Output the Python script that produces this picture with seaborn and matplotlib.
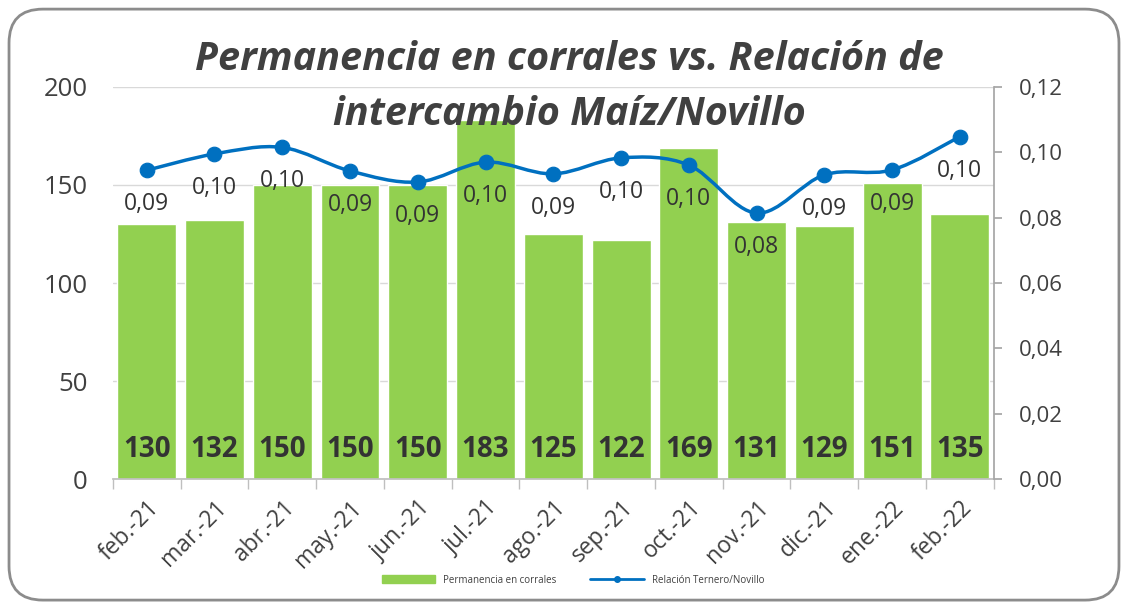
import matplotlib.pyplot as plt
import matplotlib.patches as mpatches
import matplotlib.lines as mlines
from matplotlib.path import Path
from matplotlib.ticker import FixedLocator, FuncFormatter
import numpy as np
import pandas as pd
import seaborn as sns

meses = ["feb.-21", "mar.-21", "abr.-21", "may.-21", "jun.-21", "jul.-21", "ago.-21",
         "sep.-21", "oct.-21", "nov.-21", "dic.-21", "ene.-22", "feb.-22"]
permanencia = [130, 132, 150, 150, 150, 183, 125, 122, 169, 131, 129, 151, 135]
relacion = [0.0945, 0.0995, 0.1015, 0.0943, 0.0909, 0.0970, 0.0934,
            0.0983, 0.0961, 0.0814, 0.0931, 0.0946, 0.1048]

df = pd.DataFrame({"mes": meses, "permanencia": permanencia, "relacion": relacion})

verde = "#92D050"
azul = "#0070C0"
gris_txt = "#404040"

sns.set_theme(style="white")
plt.rcParams["font.family"] = ["Open Sans", "DejaVu Sans"]

fig = plt.figure(figsize=(11.28, 6.08), dpi=100)

# marco redondeado del grafico
marco = mpatches.FancyBboxPatch((0.008, 0.013), 0.984, 0.972,
                                boxstyle="round,pad=0,rounding_size=0.03",
                                transform=fig.transFigure, facecolor="white",
                                edgecolor="#8c8c8c", linewidth=2, zorder=-10,
                                mutation_aspect=1128 / 608)
fig.patches.append(marco)

ax = fig.add_axes([0.100, 0.212, 0.781, 0.645])
ax.set_facecolor("none")
sns.barplot(data=df, x="mes", y="permanencia", color=verde, width=0.87,
            saturation=1, ax=ax, zorder=2)
ax.set_ylim(0, 200)
ax.set_xlim(-0.5, len(meses) - 0.5)
ax.set_yticks([0, 50, 100, 150, 200])
ax.yaxis.grid(True, color="#d9d9d9", linewidth=1, zorder=0)
ax.set_axisbelow(True)
for s in ["left", "top", "right"]:
    ax.spines[s].set_visible(False)
ax.spines["bottom"].set_color("#bfbfbf")
ax.set_xlabel(None)
ax.set_ylabel(None)
ax.tick_params(axis="y", length=0, labelsize=18.5, labelcolor=gris_txt, pad=18)
ax.xaxis.set_minor_locator(FixedLocator(np.arange(-0.5, len(meses), 1)))
ax.tick_params(axis="x", which="major", length=0, labelsize=16.5,
               labelcolor=gris_txt, pad=12)
ax.tick_params(axis="x", which="minor", length=7, color="#bfbfbf", width=1,
               bottom=True)
plt.setp(ax.get_xticklabels(), rotation=45, ha="right", rotation_mode="anchor")

for i, v in enumerate(permanencia):
    ax.annotate(str(v), xy=(i, 0), xytext=(0, 30), textcoords="offset pixels",
                ha="center", va="center", fontsize=20, fontweight="bold",
                color="#333333", zorder=5)

ax2 = ax.twinx()
ax2.set_ylim(0, 0.12)
ax2.set_yticks(np.arange(0, 0.121, 0.02))
ax2.yaxis.set_major_formatter(FuncFormatter(lambda v, p: f"{v:.2f}".replace(".", ",")))
for s in ["left", "top", "bottom"]:
    ax2.spines[s].set_visible(False)
ax2.spines["right"].set_color("#a6a6a6")
ax2.tick_params(axis="y", length=6, color="#a6a6a6", labelsize=16,
                labelcolor=gris_txt, pad=12)
ax2.grid(False)

# linea suavizada (bezier tipo catmull-rom por los puntos)
xs = np.arange(len(relacion), dtype=float)
ys = np.array(relacion)
verts = [(xs[0], ys[0])]
codes = [Path.MOVETO]
n = len(xs)
for i in range(n - 1):
    p0 = np.array([xs[max(i - 1, 0)], ys[max(i - 1, 0)]])
    p1 = np.array([xs[i], ys[i]])
    p2 = np.array([xs[i + 1], ys[i + 1]])
    p3 = np.array([xs[min(i + 2, n - 1)], ys[min(i + 2, n - 1)]])
    c1 = p1 + (p2 - p0) / 6
    c2 = p2 - (p3 - p1) / 6
    verts += [tuple(c1), tuple(c2), tuple(p2)]
    codes += [Path.CURVE4] * 3
curva = mpatches.PathPatch(Path(verts, codes), facecolor="none", edgecolor=azul,
                           linewidth=2.5, zorder=3, capstyle="round")
ax2.add_patch(curva)
sns.scatterplot(x=xs, y=ys, color=azul, s=110, edgecolor=azul, ax=ax2, zorder=4,
                legend=False)

for i, v in enumerate(relacion):
    ax2.annotate(f"{v:.2f}".replace(".", ","), xy=(i, v), xytext=(0, -34),
                 textcoords="offset pixels", ha="center", va="center",
                 fontsize=16.5, color="#333333", zorder=5)

fig.text(0.505, 0.902, "Permanencia en corrales vs. Relación de", ha="center",
         va="center", fontsize=28.5, fontweight="bold", style="italic", color=gris_txt)
fig.text(0.505, 0.812, "intercambio Maíz/Novillo", ha="center", va="center",
         fontsize=28.5, fontweight="bold", style="italic", color=gris_txt)

h_bar = mpatches.Patch(color=verde, label="Permanencia en corrales")
h_lin = mlines.Line2D([], [], color=azul, marker="o", markersize=4, linewidth=2,
                      label="Relación Ternero/Novillo")
fig.legend(handles=[h_bar, h_lin], loc="center", bbox_to_anchor=(0.508, 0.046),
           ncol=2, frameon=False, fontsize=7, handlelength=5.5, handleheight=0.9,
           columnspacing=3.5, labelcolor=gris_txt)

fig.savefig("out.png", dpi=100)
